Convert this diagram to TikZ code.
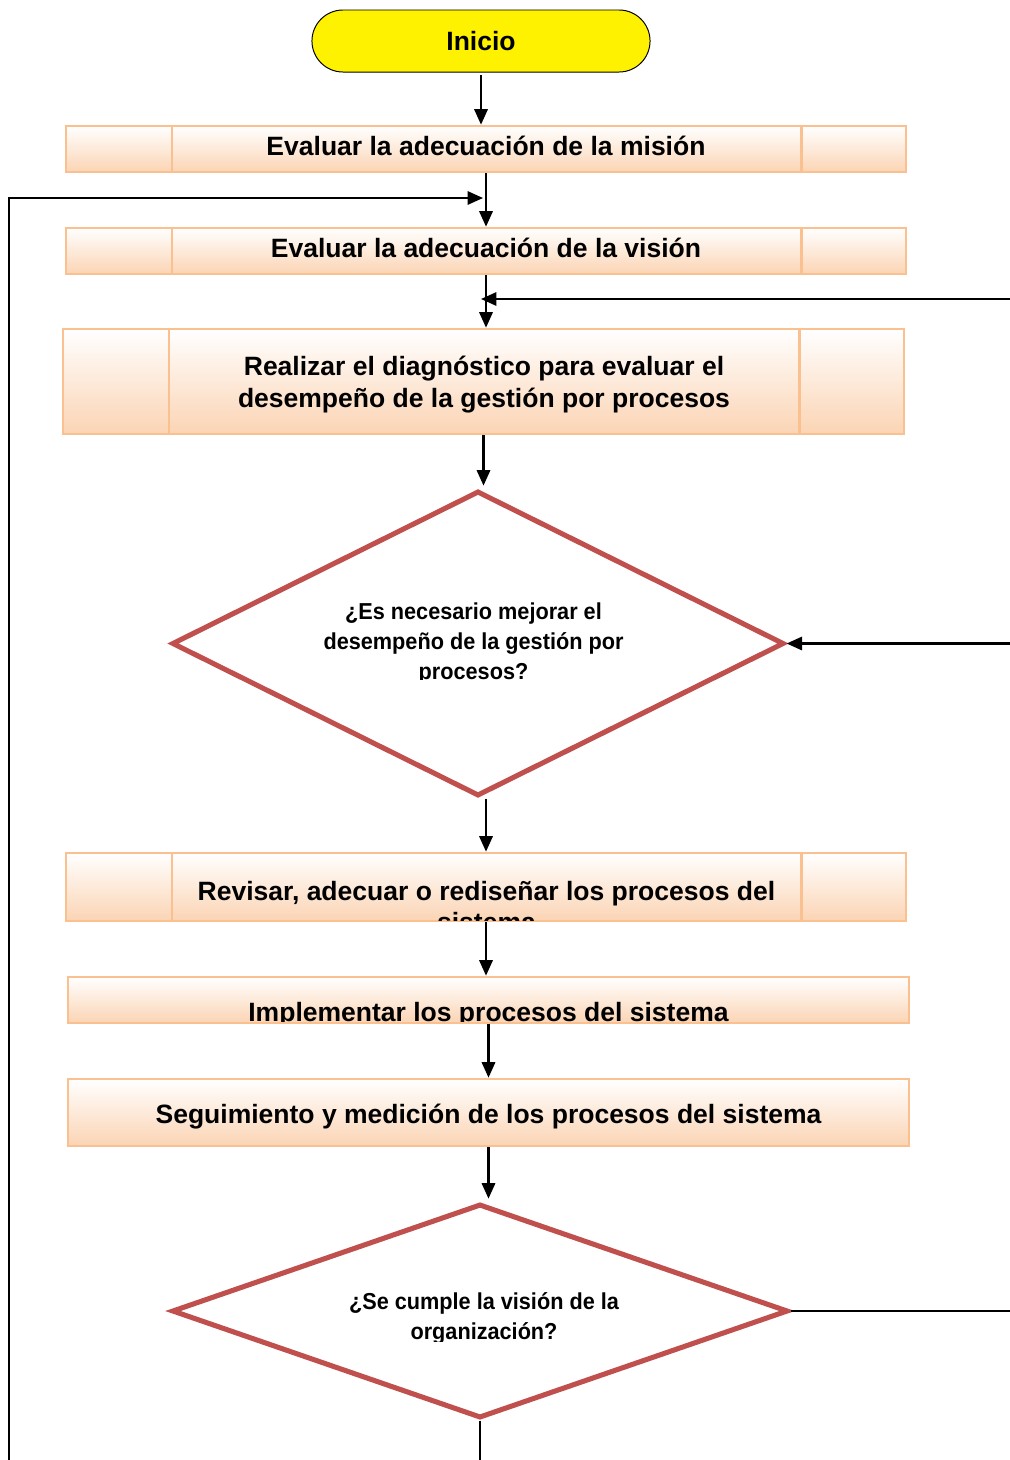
\documentclass[tikz,border=0pt]{standalone}
\usepackage{fontspec}
\setmainfont{Liberation Sans}
\newfontfamily\narrowfont[FakeStretch=0.94]{Liberation Sans}
\usetikzlibrary{shapes.geometric,shapes.misc,arrows.meta}
\definecolor{boxline}{HTML}{FAC08F}
\definecolor{boxfill}{HTML}{FBD4B4}
\definecolor{decisionred}{HTML}{C0504D}
\newcommand\boxfont{\fontsize{18.85pt}{22.7pt}\selectfont\bfseries}
\newcommand\askfont{\narrowfont\fontsize{16.4pt}{21.6pt}\selectfont\bfseries}

\begin{document}
\begin{tikzpicture}[x=0.025cm, y=-0.025cm,
        start/.style={rounded rectangle, draw, line width=0.7pt, fill=yellow, minimum width=8.45cm, minimum height=1.55cm, inner sep=0pt, font=\boxfont},
        box/.style={rectangle, draw=boxline, line width=1.9pt, top color=white, middle color=boxfill!45, bottom color=boxfill, minimum width=21cm, minimum height=1.15cm, inner sep=0pt, align=center, font=\boxfont},
        sidebox/.style={box, path picture={
            \draw[boxline, line width=1.9pt]
                ([xshift=2.65cm]path picture bounding box.north west) -- ([xshift=2.65cm]path picture bounding box.south west)
                ([xshift=-2.62cm]path picture bounding box.north east) -- ([xshift=-2.62cm]path picture bounding box.south east);
        }},
        boxtext/.style={align=center, font=\boxfont},
        decision/.style={diamond, draw=decisionred, line width=3.6pt, fill=white, inner sep=0pt},
        asktext/.style={align=center, font=\askfont},
        flow/.style={-{Triangle[length=11pt, width=9.5pt]}, line width=1.5pt},
        plain/.style={line width=1.5pt}
    ]
        \useasboundingbox (0,0) rectangle (1010,1460);

        % Start node
        \node[start] (inicio) at (481,41) {Inicio};

        % Mission and vision
        \node[sidebox, text height=1.15em, text depth=0.24em] (mision) at (486,149) {Evaluar la adecuación de la misión};
        \node[sidebox, text height=1.1em, text depth=0.24em] (vision) at (486,251) {Evaluar la adecuación de la visión};

        % Diagnosis
        \node[sidebox, minimum width=21.025cm, minimum height=2.625cm] (diagnostico) at (483.5,381.5) {};
        \node[boxtext] (diagnosticotxt) at (484,385) {Realizar el diagnóstico para evaluar el\\desempeño de la gestión por procesos};

        % First decision
        \node[decision, minimum width=15.3cm, minimum height=7.625cm] (mejorar) at (478,643.5) {};
        \begin{scope}
            \clip (150,560) rectangle (810,679);
            \node[asktext] (mejorartxt) at (473.5,643.5) {¿Es necesario mejorar el\\desempeño de la gestión por\\procesos?};
        \end{scope}

        % Process boxes
        \node[sidebox, minimum height=1.7cm] (revisar) at (486,887) {};
        \begin{scope}
            \clip ([yshift=1pt]revisar.south west) rectangle (revisar.north east);
            \node[boxtext] (revisartxt) at (486.5,906.5) {Revisar, adecuar o rediseñar los procesos del\\sistema};
        \end{scope}
        \node[box, minimum width=21.025cm] (implementar) at (488.5,1000) {};
        \begin{scope}
            \clip (implementar.north west) rectangle ([yshift=2pt]implementar.south east);
            \node[font=\boxfont, anchor=base] (implementartxt) at (488.5,1021) {Implementar los procesos del sistema};
        \end{scope}
        \node[box, minimum width=21.025cm, minimum height=1.675cm, text height=1.65em, text depth=0.02em] (seguimiento) at (488.5,1112.5) {Seguimiento y medición de los procesos del sistema};

        % Second decision
        \node[decision, minimum width=15.4cm, minimum height=5.35cm] (cumple) at (480,1311) {};
        \begin{scope}
            \clip (150,1250) rectangle (810,1341);
            \node[asktext] (cumpletxt) at (484,1318.5) {¿Se cumple la visión de la\\organización?};
        \end{scope}

        % Free ends of the loops
        \coordinate (leftend) at (9,1460);
        \coordinate (loopin) at (483,198);
        \coordinate (rightin) at (1010,299);
        \coordinate (visionin) at (481,299);
        \coordinate (rightmid) at (1010,643.5);
        \coordinate (rightout) at (1010,1311);
        \coordinate (bottomout) at (480,1460);

        % Main flow
        \draw[flow] ([yshift=-2pt]inicio.south) -- (inicio.south |- mision.north);
        \draw[flow] (mision.south) -- (mision.south |- vision.north);
        \draw[flow] (vision.south) -- (vision.south |- diagnostico.north);
        \draw[flow] (diagnostico.south) -- ([yshift=2pt]diagnostico.south |- mejorar.north);
        \draw[flow] (revisar.north |- mejorar.south) -- (revisar.north);
        \draw[flow] (revisar.south) -- (revisar.south |- implementar.north);
        \draw[flow] (implementar.south) -- (implementar.south |- seguimiento.north);
        \draw[flow] (seguimiento.south) -- ([yshift=2pt]seguimiento.south |- cumple.north);
        \draw[plain] (cumple.south) -- (bottomout);

        % Loops
        \draw[flow] (leftend) |- (loopin);
        \draw[flow] (rightin) -- (visionin);
        \draw[flow] (rightmid) -- (mejorar.east);
        \draw[plain] (cumple.east) -- (rightout);

    \end{tikzpicture}
\end{document}
